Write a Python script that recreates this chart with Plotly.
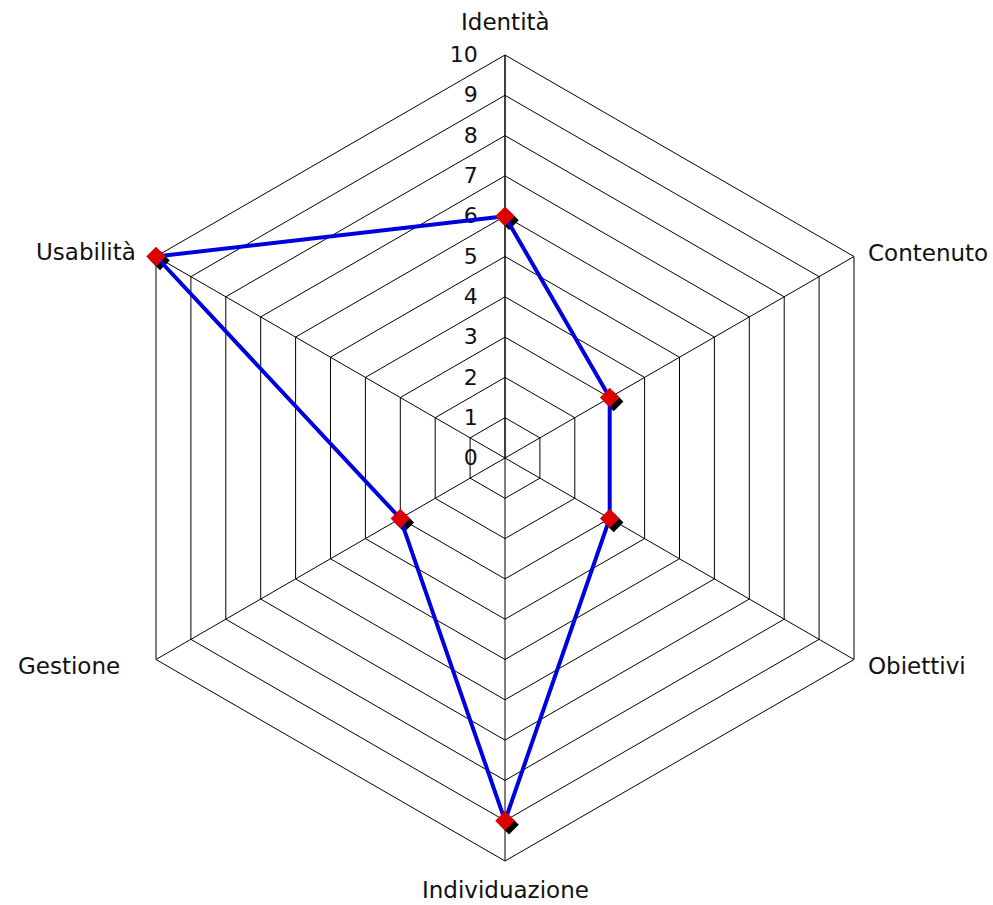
import math
import plotly.graph_objects as go

categories = ["Identità", "Contenuto", "Obiettivi", "Individuazione", "Gestione", "Usabilità"]
values = [6, 3, 3, 9, 3, 10]
radial_ticks = list(range(0, 11))

W, H = 993, 905
cx, cy, R = 505, 458, 403
dom_x = [(cx - R) / W, (cx + R) / W]
dom_y = [1 - (cy + R) / H, 1 - (cy - R) / H]
sx, sy = 4 / W, -4 / H
dom_x2 = [dom_x[0] + sx, dom_x[1] + sx]
dom_y2 = [dom_y[0] + sy, dom_y[1] + sy]

theta = categories + [categories[0]]
r = values + [values[0]]

font = dict(family="DejaVu Sans", size=23, color="#111111")
tick_font = dict(family="DejaVu Sans", size=22, color="#111111")

fig = go.Figure()
fig.add_trace(go.Scatterpolar(r=[0], theta=[categories[0]], mode="markers",
                              marker=dict(size=0.1, opacity=0), subplot="polar",
                              showlegend=False, hoverinfo="skip"))
# shadows
fig.add_trace(go.Scatterpolar(r=values, theta=categories, mode="markers",
                              marker=dict(symbol="diamond", size=15, color="black"),
                              subplot="polar2", showlegend=False, hoverinfo="skip"))
# line + markers
fig.add_trace(go.Scatterpolar(r=r, theta=theta, mode="lines",
                              line=dict(color="#0000DD", width=4),
                              subplot="polar3", showlegend=False))
fig.add_trace(go.Scatterpolar(r=values, theta=categories, mode="markers",
                              marker=dict(symbol="diamond", size=15, color="#DD0000"),
                              subplot="polar3", showlegend=False))

hidden_radial = dict(range=[0, 10], visible=False)
hidden_ang = dict(categoryarray=categories, categoryorder="array", rotation=90,
                  direction="clockwise", visible=False)

fig.update_layout(
    width=W, height=H,
    margin=dict(l=0, r=0, t=0, b=0),
    paper_bgcolor="white",
    font=font,
    polar=dict(
        domain=dict(x=dom_x, y=dom_y),
        gridshape="linear",
        bgcolor="rgba(0,0,0,0)",
        radialaxis=dict(range=[0, 10], tickvals=radial_ticks, ticktext=[str(v) for v in radial_ticks],
                        angle=90, side="counterclockwise", tickangle=90,
                        showline=True, linecolor="black", linewidth=1,
                        gridcolor="black", gridwidth=1,
                        ticks="outside", ticklen=19, tickcolor="rgba(0,0,0,0)",
                        tickfont=tick_font),
        angularaxis=dict(categoryarray=categories, categoryorder="array", rotation=90,
                         direction="clockwise", showline=True, linecolor="black", linewidth=1,
                         gridcolor="black", gridwidth=1, ticks="", showticklabels=False),
    ),
    polar2=dict(domain=dict(x=dom_x2, y=dom_y2), gridshape="linear", bgcolor="rgba(0,0,0,0)",
                radialaxis=hidden_radial, angularaxis=hidden_ang),
    polar3=dict(domain=dict(x=dom_x, y=dom_y), gridshape="linear", bgcolor="rgba(0,0,0,0)",
                radialaxis=hidden_radial, angularaxis=hidden_ang),
)

# category labels placed just outside the outer hexagon
label_dx = [0, 12, 12, 0, 34, 18]
label_dy = [-33, -4, 6, 0, 6, -4]
n = len(categories)
for i, cat in enumerate(categories):
    ang = math.radians(90 - i * 360 / n)
    ca, sa = math.cos(ang), math.sin(ang)
    px = cx + R * ca
    py = cy - R * sa
    if abs(ca) < 1e-6:
        if sa > 0:
            fig.add_annotation(x=px / W, y=1 - (py + label_dy[i]) / H, xref="paper", yref="paper",
                               text=cat, showarrow=False, xanchor="center", yanchor="middle",
                               font=font)
        else:
            fig.add_annotation(x=px / W, y=0, xref="paper", yref="paper",
                               text=cat, showarrow=False, xanchor="center", yanchor="bottom",
                               font=font)
    else:
        xanchor = "left" if ca > 0 else "right"
        px_l = px + (label_dx[i] if ca > 0 else -label_dx[i])
        py_l = py + label_dy[i]
        fig.add_annotation(x=px_l / W, y=1 - py_l / H, xref="paper", yref="paper",
                           text=cat, showarrow=False, xanchor=xanchor, yanchor="middle",
                           font=font)

fig.write_html("out.html", config={"displayModeBar": False},
               post_script="document.body.style.margin='0px';")
